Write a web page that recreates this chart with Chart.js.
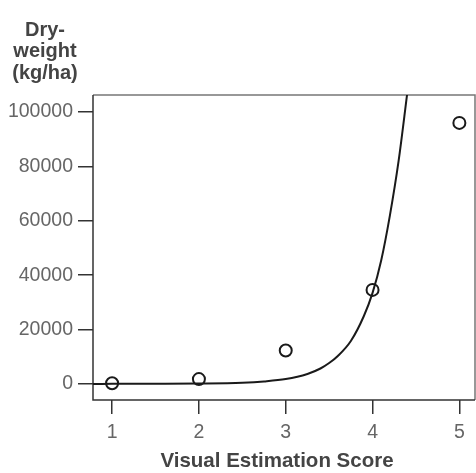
<!DOCTYPE html>
<html>
<head>
<meta charset="utf-8">
<script src="https://cdn.jsdelivr.net/npm/chart.js@4.4.1/dist/chart.umd.min.js"></script>
<style>
html,body{margin:0;padding:0;background:#fff;}
#wrap{width:476px;height:473px;position:relative;}
</style>
</head>
<body>
<div id="wrap"><canvas id="c" width="476" height="473"></canvas></div>
<script>
// Observed data (visual score vs dry weight)
const scores = [1, 2, 3, 4, 5];
const dryWeight = [300, 1800, 12300, 34600, 96000];
// Fitted curve
const curveX = [0.78, 1, 1.5, 2, 2.5, 2.75, 3, 3.25, 3.4, 3.5, 3.6, 3.75, 3.9, 4, 4.1, 4.2, 4.3, 4.4];
const curveY = [30, 50, 100, 200, 500, 950, 1800, 3700, 5700, 7700, 10300, 15800, 25000, 33500, 45500, 62000, 82000, 107000];
const xTicks = [1, 2, 3, 4, 5];
const yTicks = [0, 20000, 40000, 60000, 80000, 100000];
const yTitle = ['Dry-', 'weight', '(kg/ha)'];
const xTitle = 'Visual Estimation Score';

const FONT = '"Liberation Sans", Arial, Helvetica, sans-serif';

const framePlugin = {
  id: 'frame',
  beforeDatasetsDraw(chart) {
    const {ctx, chartArea: a} = chart;
    ctx.save();
    ctx.lineWidth = 1.5;
    ctx.strokeStyle = '#777';
    ctx.beginPath();
    ctx.moveTo(a.left, a.top); ctx.lineTo(a.right, a.top); ctx.lineTo(a.right, a.bottom);
    ctx.stroke();
    ctx.strokeStyle = '#333';
    ctx.beginPath();
    ctx.moveTo(a.left, a.top); ctx.lineTo(a.left, a.bottom); ctx.lineTo(a.right, a.bottom);
    ctx.stroke();
    ctx.restore();
  },
  afterDraw(chart) {
    const {ctx} = chart;
    ctx.save();
    ctx.fillStyle = '#444';
    ctx.textAlign = 'center';
    ctx.textBaseline = 'middle';
    ctx.font = 'bold 20px ' + FONT;
    yTitle.forEach((t, i) => ctx.fillText(t, 45, 30 + i * 21.5));
    ctx.font = 'bold 20.5px ' + FONT;
    ctx.fillText(xTitle, 277, 461);
    ctx.restore();
  }
};

new Chart(document.getElementById('c'), {
  type: 'scatter',
  data: {
    datasets: [
      {
        label: 'fit',
        data: curveX.map((x, i) => ({x, y: curveY[i]})),
        showLine: true,
        borderColor: '#1a1a1a',
        borderWidth: 2,
        pointRadius: 0,
        cubicInterpolationMode: 'monotone',
        clip: 0
      },
      {
        label: 'observed',
        data: scores.map((x, i) => ({x, y: dryWeight[i]})),
        showLine: false,
        pointRadius: 6,
        pointBorderWidth: 2,
        pointBorderColor: '#1a1a1a',
        pointBackgroundColor: 'rgba(255,255,255,0)'
      }
    ]
  },
  options: {
    responsive: false,
    animation: false,
    layout: {autoPadding: false, padding: {top: 95, right: 1, left: 0, bottom: 0}},
    plugins: {legend: {display: false}, tooltip: {enabled: false}, title: {display: false}},
    scales: {
      x: {
        type: 'linear',
        min: 0.78,
        max: 5.18,
        afterBuildTicks: s => { s.ticks = xTicks.map(v => ({value: v})); },
        afterFit: s => { s.height = 73; s.paddingLeft = 0; s.paddingRight = 0; },
        border: {display: false},
        grid: {drawOnChartArea: false, drawTicks: true, tickLength: 14, color: '#333', lineWidth: 1.5},
        ticks: {padding: 7, color: '#666', font: {family: FONT, size: 19.5}, maxRotation: 0}
      },
      y: {
        type: 'linear',
        min: -5880,
        max: 106250,
        afterBuildTicks: s => { s.ticks = yTicks.map(v => ({value: v})); },
        afterFit: s => { s.width = 93; s.paddingTop = 0; s.paddingBottom = 0; },
        border: {display: false},
        grid: {drawOnChartArea: false, drawTicks: true, tickLength: 15, color: '#333', lineWidth: 1.5},
        ticks: {padding: 5, color: '#666', font: {family: FONT, size: 19.5}, callback: v => String(v)}
      }
    }
  },
  plugins: [framePlugin]
});
</script>
</body>
</html>
